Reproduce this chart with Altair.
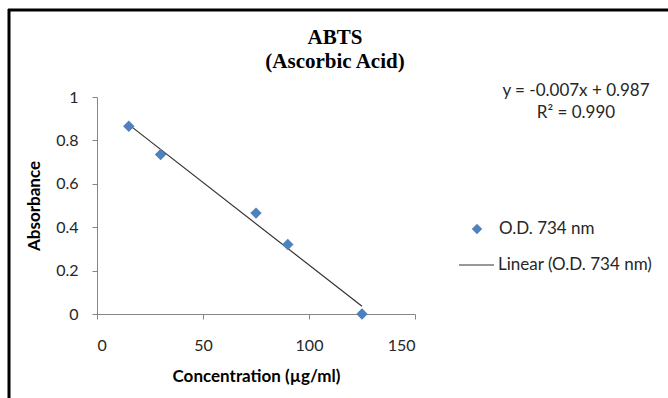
import altair as alt
import pandas as pd

concentration = [15, 30, 75, 90, 125]
absorbance = [0.865, 0.735, 0.465, 0.32, 0.0]
series_name = "O.D. 734 nm"
trend_name = "Linear (O.D. 734 nm)"
title_lines = ["ABTS", "(Ascorbic Acid)"]
equation_lines = ["y = -0.007x + 0.987", "R² = 0.990"]
x_title = "Concentration (µg/ml)"
y_title = "Absorbance"

df = pd.DataFrame({"x": concentration, "y": absorbance})

W, H = 318, 217
PL, PT = 97, 97
FONT = "Lato"
BLUE = "#4F81BD"
AXIS = "#868686"
TEXT = "#262626"

xs = alt.X("x:Q", title=x_title,
           scale=alt.Scale(domain=[0, 150], nice=False),
           axis=alt.Axis(values=[0, 50, 100, 150], grid=False, domainColor=AXIS,
                         tickColor=AXIS, tickSize=5, labelFont=FONT, labelFontSize=16,
                         labelColor=TEXT, labelPadding=18, titleFont=FONT,
                         titleFontSize=17, titleFontWeight="bold", titleColor="#000",
                         titlePadding=15))
ys = alt.Y("y:Q", title=y_title,
           scale=alt.Scale(domain=[0, 1], nice=False),
           axis=alt.Axis(values=[0, 0.2, 0.4, 0.6, 0.8, 1.0], format=".1~f", grid=False,
                         domainColor=AXIS, tickColor=AXIS, tickSize=5, labelFont=FONT,
                         labelFontSize=16, labelColor=TEXT, labelPadding=14,
                         titleFont=FONT, titleFontSize=17, titleFontWeight="bold",
                         titleColor="#000", titlePadding=12))

base = alt.Chart(df)

points = base.mark_point(shape="diamond", filled=True, size=130, color=BLUE,
                         opacity=1).encode(x=xs, y=ys)

trend = base.transform_regression("x", "y", method="linear").mark_line(
    color="#333333", strokeWidth=1.2).encode(x="x:Q", y="y:Q")

# Title lines
title_df = pd.DataFrame({"t": title_lines, "px": [238, 238], "py": [-53, -29]})
title = alt.Chart(title_df).mark_text(
    font="Liberation Serif", fontSize=21, fontWeight="bold", color="#000",
    baseline="alphabetic", align="center").encode(
    text="t:N", x=alt.X("px:Q", scale=None), y=alt.Y("py:Q", scale=None))

# Equation annotation (two lines in one text mark)
eq = alt.Chart(pd.DataFrame({"k": [0]})).mark_text(
    font=FONT, fontSize=17, color=TEXT, baseline="alphabetic", align="center",
    lineHeight=22).encode(
    text=alt.value(equation_lines), x=alt.value(479), y=alt.value(-1))

# Legend
leg_df = pd.DataFrame({"t": [series_name, trend_name], "px": [402, 401], "py": [132, 168]})
leg_text = alt.Chart(leg_df).mark_text(font=FONT, fontSize=17, color=TEXT,
                                       baseline="middle", align="left").encode(
    text="t:N", x=alt.X("px:Q", scale=None), y=alt.Y("py:Q", scale=None))
leg_sym = alt.Chart(pd.DataFrame({"k": [series_name]})).mark_point(
    shape="diamond", filled=True, size=110, color=BLUE, opacity=1).encode(
    x=alt.value(380), y=alt.value(132))
leg_line = alt.Chart(pd.DataFrame({"k": [trend_name]})).mark_rule(
    color="#333333", strokeWidth=1.2).encode(
    x=alt.value(362), x2=alt.value(397), y=alt.value(168))

# Frame (left and top edges)
frame_top = alt.Chart(pd.DataFrame({"k": [0]})).mark_rule(color="#000", strokeWidth=3).encode(
    x=alt.value(-89), x2=alt.value(571), y=alt.value(-87))
frame_left = alt.Chart(pd.DataFrame({"k": [0]})).mark_rule(color="#000", strokeWidth=3).encode(
    x=alt.value(-88), y=alt.value(-88), y2=alt.value(301))

chart = alt.layer(frame_top, frame_left, trend, points, title, eq, leg_text, leg_sym,
                  leg_line).properties(
    width=W, height=H,
    autosize=alt.AutoSizeParams(type="none"),
    padding={"left": PL, "top": PT, "right": 668 - PL - W, "bottom": 398 - PT - H},
    background="white",
).configure_view(stroke=None)

chart.save("out.html", embed_options={"renderer": "svg", "actions": False})
